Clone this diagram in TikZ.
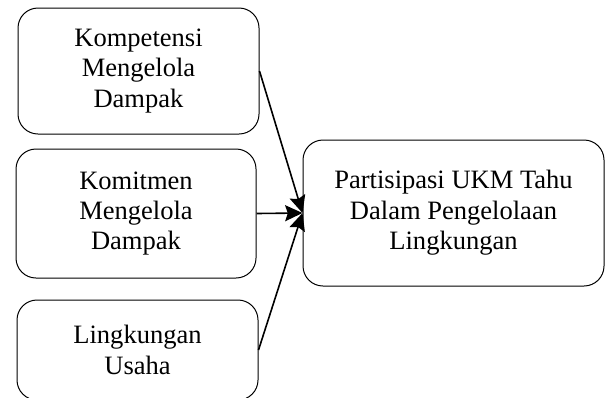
\documentclass[tikz,border=0pt]{standalone}
\usepackage{fontspec}
\setmainfont{Liberation Serif}
\usetikzlibrary{shapes, arrows.meta, positioning}

\begin{document}
\begin{tikzpicture}[
	x=0.75pt, y=-0.75pt,
	every node/.style={align=center, font=\fontsize{19.9}{22.8}\selectfont, inner sep=0pt},
	process/.style={draw, rounded corners=15pt, line width=0.75pt},
	to/.style={-{Stealth[length=13pt,width=12pt,inset=2pt]}, line width=1.2pt}
	]
	\useasboundingbox (0,0) rectangle (605,397);
	
	\node[process, minimum width=180.75pt, minimum height=94.5pt] (kompetensi) at (138.5,71) {Kompetensi\\ Mengelola\\ Dampak};
	\node[process, minimum width=180pt, minimum height=96.75pt] (komitmen) at (136,213.5) {Komitmen\\ Mengelola\\ Dampak};
	\node[process, minimum width=180.75pt, minimum height=75pt] (lingkungan) at (137.5,350) {Lingkungan\\ Usaha};
	\node[process, minimum width=225.75pt, minimum height=109.5pt] (partisipasi) at (453.5,213) {Partisipasi UKM Tahu\\ Dalam Pengelolaan\\ Lingkungan};
	
	\draw[to] (kompetensi.east) -- (partisipasi.west);
	\draw[to] (komitmen.east) -- (partisipasi.west);
	\draw[to] (lingkungan.east) -- (partisipasi.west);
	
\end{tikzpicture}
\end{document}
